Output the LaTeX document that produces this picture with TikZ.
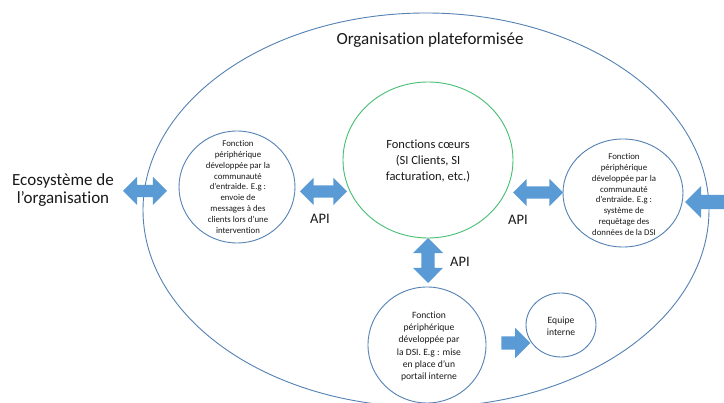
\documentclass[tikz,border=0pt]{standalone}
\usepackage{fontspec}
\setmainfont{Carlito}[Ligatures=NoCommon]
\usetikzlibrary{shapes.geometric,shapes.arrows}
\definecolor{outl}{RGB}{84,130,180}
\definecolor{grn}{RGB}{70,190,115}
\definecolor{arr}{RGB}{91,155,213}
\definecolor{txt}{RGB}{25,25,25}
\begin{document}
\begin{tikzpicture}[x=1pt,y=-1pt,
  ring/.style={ellipse, draw=outl, line width=0.9pt, inner sep=0pt},
  corering/.style={ellipse, draw=grn, line width=0.9pt, inner sep=0pt},
  body/.style={align=center, inner sep=0pt, text=txt},
  small/.style={body, font=\fontsize{8.8}{10.9}\selectfont},
  mid/.style={body, font=\fontsize{9.6}{12.3}\selectfont},
  apilabel/.style={body, font=\fontsize{14.5}{16}\selectfont},
  big/.style={body, font=\fontsize{17}{18}\selectfont},
  dblarrow/.style={double arrow, fill=arr, draw=none, inner xsep=0pt},
  snglarrow/.style={single arrow, fill=arr, draw=none, inner xsep=0pt}]
\useasboundingbox (0,0) rectangle (724,403);
\fill[white] (0,0) rectangle (724,403);
\clip (0,0) rectangle (724,403);

% outer organisation ellipse
\node[ring, minimum width=566pt, minimum height=394pt] (org) at (426,210) {};
\node[big] (orgt) at (430,40) {Organisation plateformisée};

% core functions
\node[corering, minimum width=170pt, minimum height=156pt] (core) at (428,160) {};
\node[body, font=\fontsize{12.5}{15.7}\selectfont] (coret) at (428,161) {Fonctions cœurs\\(SI Clients, SI\\facturation, etc.)};

% left peripheral
\node[ring, minimum width=116pt, minimum height=112pt] (cl) at (237,187) {};
\node[small] (clt) at (238,187) {Fonction\\périphérique\\développée par la\\communauté\\d’entraide. E.g :\\envoie de\\messages à des\\clients lors d’une\\intervention};

% right peripheral
\node[ring, minimum width=120pt, minimum height=108pt] (cr) at (623,193) {};
\node[small] (crt) at (624,194.5) {Fonction\\périphérique\\développée par la\\communauté\\d’entraide. E.g :\\système de\\requêtage des\\données de la DSI};

% bottom peripheral
\node[ring, minimum width=118pt, minimum height=116pt] (cb) at (427,345) {};
\node[mid] (cbt) at (429,346.5) {Fonction\\périphérique\\développée par\\la DSI. E.g : mise\\en place d’un\\portail interne};

% internal team
\node[ring, minimum width=70pt, minimum height=64pt] (ce) at (561,325) {};
\node[mid] (cet) at (561,326) {Equipe\\interne};

% ecosystem label
\node[big] (eco) at (63,190) {Ecosystème de\\l’organisation};

% block arrows (shaft = 2 * inner sep across, head width = shaft + 2 * head extend)
\node[dblarrow, minimum height=44pt, inner ysep=6pt, double arrow head extend=8pt] (a1) at (145,191) {};
\node[dblarrow, minimum height=47pt, inner ysep=6pt, double arrow head extend=7.5pt] (a2) at (323.5,191.5) {};
\node[dblarrow, minimum height=50pt, inner ysep=6pt, double arrow head extend=7.5pt] (a3) at (538,192.5) {};
\node[dblarrow, minimum height=45pt, inner xsep=6.5pt, inner ysep=0pt, double arrow head extend=8.5pt, shape border rotate=90] (a4) at (428,260.5) {};
\node[dblarrow, minimum height=60pt, inner ysep=7pt, double arrow head extend=9pt] (a5) at (715,202) {};
\node[snglarrow, minimum height=29pt, inner ysep=6.5pt, single arrow head extend=8.5pt] (a6) at (512.5,343) {};

% API labels
\node[apilabel] (api1) at (320,219) {API};
\node[apilabel] (api2) at (518,220) {API};
\node[apilabel] (api3) at (460,262) {API};
\end{tikzpicture}
\end{document}
